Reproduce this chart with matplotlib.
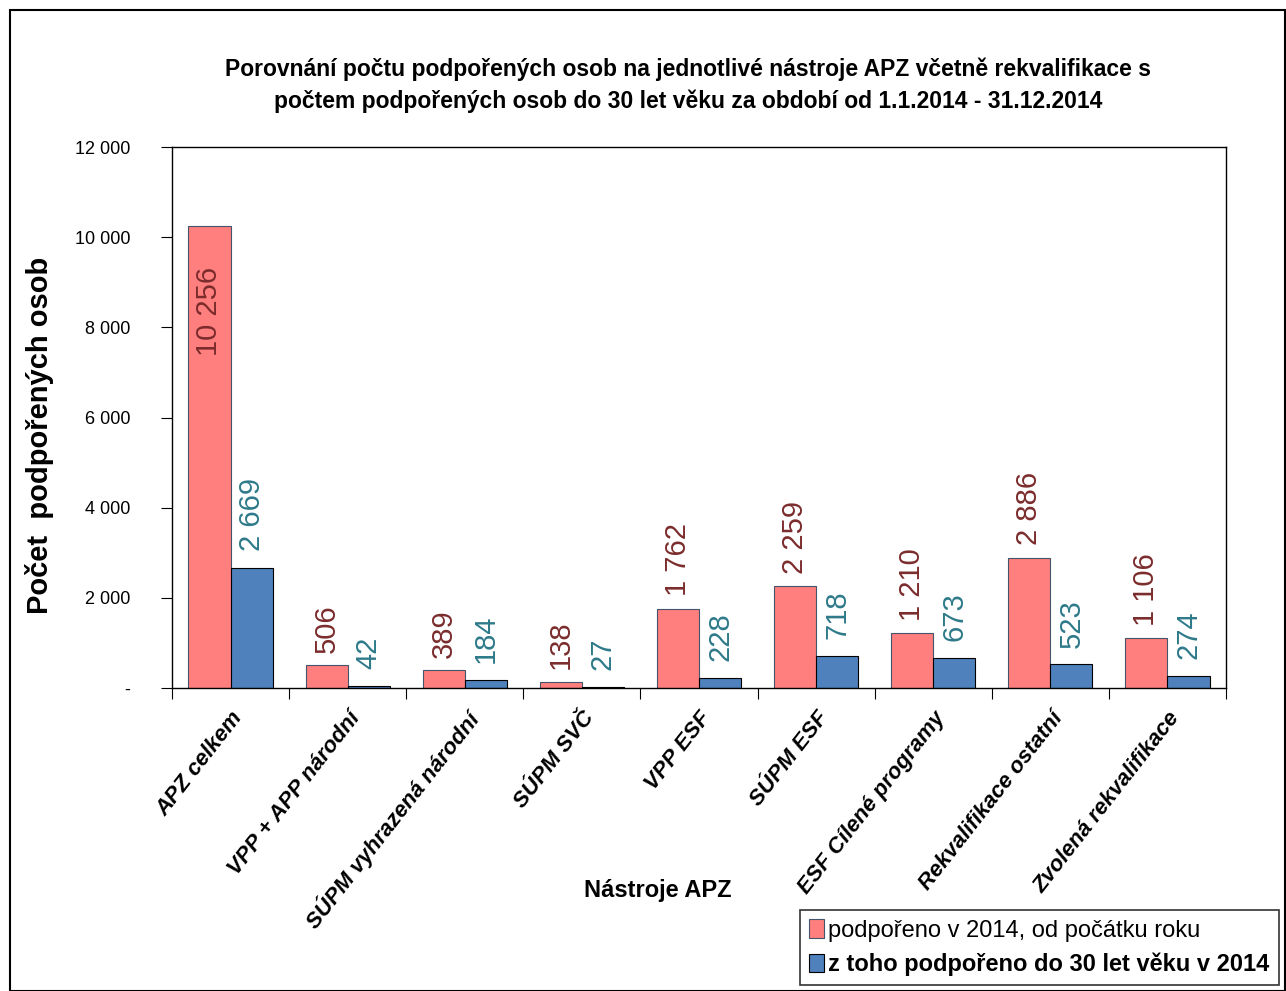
import matplotlib.pyplot as plt
import numpy as np
from matplotlib.patches import Rectangle
from matplotlib.ticker import FixedLocator, FuncFormatter

plt.rcParams['font.family'] = ['Liberation Sans', 'DejaVu Sans']

categories = ['APZ celkem', 'VPP + APP národní', 'SÚPM vyhrazená národní', 'SÚPM SVČ',
              'VPP ESF', 'SÚPM ESF', 'ESF Cílené programy', 'Rekvalifikace ostatní',
              'Zvolená rekvalifikace']
podporeno = [10256, 506, 389, 138, 1762, 2259, 1210, 2886, 1106]
do_30 = [2669, 42, 184, 27, 228, 718, 673, 523, 274]
series_names = ['podpořeno v 2014, od počátku roku', 'z toho podpořeno do 30 let věku v 2014']

red = '#FF7F7F'
blue = '#4F81BD'
red_txt = '#7B2C2C'
blue_txt = '#2E7A8A'


def fmt(v):
    return f'{v:,}'.replace(',', ' ')


fig = plt.figure(figsize=(12.86, 9.91), dpi=100)
fig.patches.append(Rectangle((10 / 1286, 0), 1 - 11 / 1286, 1 - 10 / 991, transform=fig.transFigure,
                             fill=False, edgecolor='black', linewidth=1.5))
ax = fig.add_axes([172 / 1286, 1 - 688 / 991, (1226 - 172) / 1286, (688 - 147) / 991])

x = np.arange(len(categories))
w = 0.36
ax.bar(x - w / 2, podporeno, w, color=red, edgecolor='#44546A', linewidth=0.8, label=series_names[0])
ax.bar(x + w / 2, do_30, w, color=blue, edgecolor='black', linewidth=0.8, label=series_names[1])

for i, v in enumerate(podporeno):
    if v > 9000:
        ax.annotate(fmt(v), (x[i] - w / 2, v), xytext=(0, -30), textcoords='offset points',
                    rotation=90, ha='center', va='top', fontsize=21, color=red_txt)
    else:
        ax.annotate(fmt(v), (x[i] - w / 2, v), xytext=(0, 9), textcoords='offset points',
                    rotation=90, ha='center', va='bottom', fontsize=21, color=red_txt)
for i, v in enumerate(do_30):
    ax.annotate(fmt(v), (x[i] + w / 2, v), xytext=(0, 12), textcoords='offset points',
                rotation=90, ha='center', va='bottom', fontsize=21, color=blue_txt)

ax.set_xlim(-0.5, len(categories) - 0.5)
ax.set_ylim(0, 12000)
ax.set_yticks(range(0, 12001, 2000))
ax.yaxis.set_major_formatter(FuncFormatter(lambda v, p: '-' if v == 0 else fmt(int(v))))
ax.tick_params(axis='y', direction='out', length=8, labelsize=13, pad=22)

ax.xaxis.set_major_locator(FixedLocator(np.arange(-0.5, len(categories), 1.0)))
ax.xaxis.set_major_formatter(FuncFormatter(lambda v, p: ''))
ax.xaxis.set_minor_locator(FixedLocator(x))
ax.set_xticklabels(categories, minor=True, rotation=52, ha='right', rotation_mode='anchor',
                   fontsize=16, fontweight='bold', fontstyle='italic')
ax.tick_params(axis='x', which='major', direction='out', length=8)
ax.tick_params(axis='x', which='minor', length=0, pad=14)

for s in ax.spines.values():
    s.set_color('black')
    s.set_linewidth(1)

fig.text(0.535, 1 - 85 / 991, 'Porovnání počtu podpořených osob na jednotlivé nástroje APZ včetně rekvalifikace s\n'
         'počtem podpořených osob do 30 let věku za období od 1.1.2014 - 31.12.2014',
         ha='center', va='center', fontsize=16.5, fontweight='bold', linespacing=1.45)
fig.text(40 / 1286, 1 - 435 / 991, 'Počet  podpořených osob', rotation=90, ha='center', va='center',
         fontsize=21, fontweight='bold')
fig.text(658 / 1286, 1 - 890 / 991, 'Nástroje APZ', ha='center', va='center', fontsize=17, fontweight='bold')

leg = fig.legend(loc='upper left', bbox_to_anchor=(800 / 1286, 1 - 910 / 991), frameon=True,
                 fancybox=False, edgecolor='black', fontsize=17, handlelength=0.6, handleheight=0.8,
                 handletextpad=0.2, borderpad=0.4, labelspacing=0.45, borderaxespad=0)
leg.get_frame().set_linewidth(1.2)
leg.get_texts()[1].set_fontweight('bold')

plt.savefig('out.png', dpi=100)
